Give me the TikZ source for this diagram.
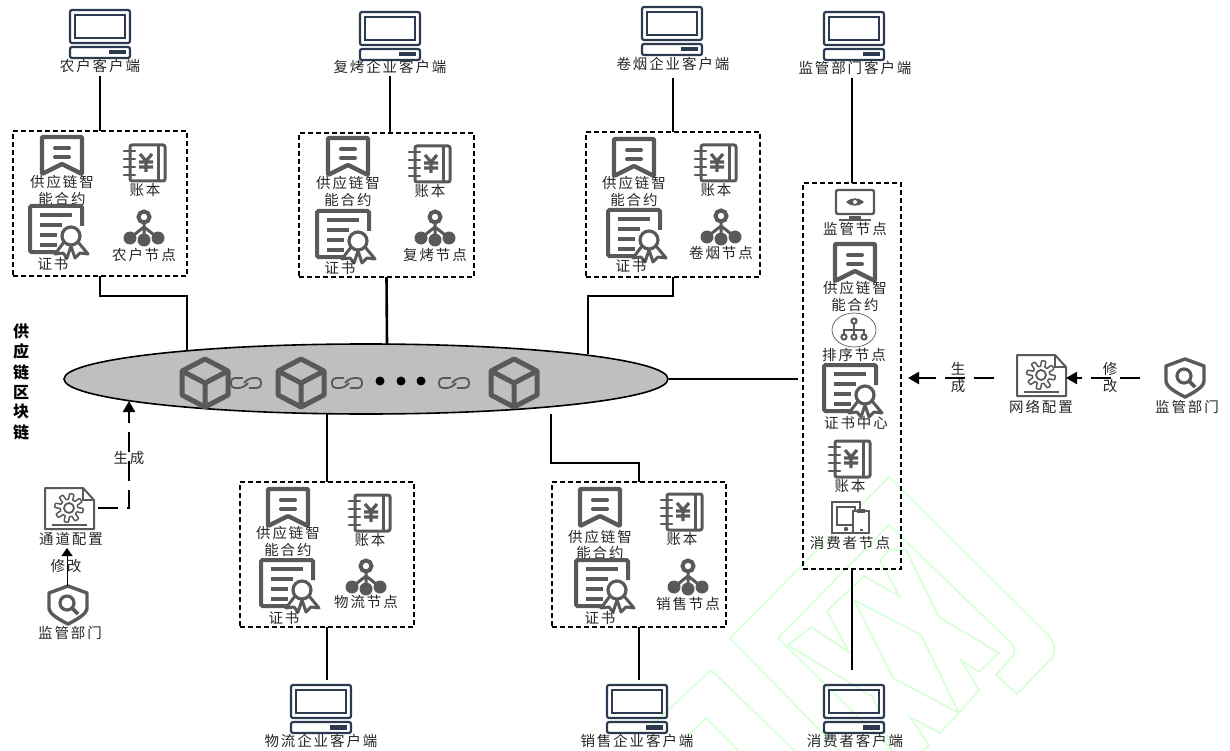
\documentclass[tikz,border=0pt]{standalone}
\usepackage{fontspec}
\setmainfont{Noto Sans CJK SC}[LetterSpace=13]
\usetikzlibrary{arrows.meta,calc,shapes.geometric}
\definecolor{ic}{HTML}{595959}
\definecolor{cl}{HTML}{2B3A4E}
\definecolor{wm}{HTML}{D8FFD8}
\tikzset{
 x=1pt,y=-1pt,
 lab/.style={inner sep=0pt,font=\fontsize{14.5}{16}\selectfont,text=black!85},
 dbox/.style={draw,dash pattern=on 5pt off 3pt,line width=1.3pt,inner sep=0pt,outer sep=0pt},
 conn/.style={line width=2.6pt,draw=black},
 dconn/.style={line width=2.4pt,draw=black,dash pattern=on 20pt off 9pt},
 tip/.style={-{Triangle[length=11pt,width=12pt]}},
 wmk/.style={draw=wm,line width=1.8pt,line join=miter},
 client/.pic={
  \draw[cl,line width=2.2pt,rounded corners=2pt] (-30,-24) rectangle (30,9);
  \draw[cl,line width=1.8pt] (-25,-19) rectangle (25,4);
  \draw[cl,line width=2.2pt,rounded corners=2pt] (-30,13) rectangle (30,24);
  \fill[cl] (9,16) rectangle (26,20.5);
 },
 contract/.pic={
  \draw[ic,line width=4.4pt,line join=round,rounded corners=1pt] (-20,-18)--(20,-18)--(20,19)--(0,9)--(-20,19)--cycle;
  \draw[ic,line width=4pt,line cap=round] (-7,-7)--(7,-7) (-7,2)--(7,2);
 },
 ledger/.pic={
  \draw[ic,line width=3pt,rounded corners=2pt] (-15,-18) rectangle (20,18);
  \draw[ic,line width=3pt] (13,-18)--(13,18);
  \draw[ic,line width=2.6pt,line cap=round] (-21,-12)--(-10,-12) (-21,-4)--(-10,-4) (-21,4)--(-10,4) (-21,12)--(-10,12);
  \draw[ic,line width=3.2pt] (-5,-9)--(1,-2)--(7,-9) (1,-2)--(1,9) (-6,-1)--(8,-1) (-6,4)--(8,4);
 },
 cert/.pic={
  \draw[ic,line width=4pt,rounded corners=1.5pt] (24,-3)--(24,-23)--(-28,-23)--(-28,23)--(0,23);
  \draw[ic,line width=3.2pt] (-18,-14)--(14,-14) (-18,-4)--(4,-4) (-18,6)--(-1,6) (-18,16)--(-1,16);
  \draw[ic,line width=3.2pt,fill=white] (13,7) circle [radius=9];
  \draw[ic,line width=3pt,line join=round] (6,13)--(-3,25)--(5,24)--(9,29)--(13,17)--(17,29)--(22,24)--(30,25)--(20,13);
 },
 netnode/.pic={
  \draw[ic,line width=3pt] (0,-5)--(0,12) (0,-1)--(-14,10) (0,-1)--(14,10);
  \draw[ic,line width=4pt,fill=white] (0,-11) circle [radius=5.5];
  \fill[ic] (-14,10) circle [radius=6.5] (14,10) circle [radius=6.5] (0,12) circle [radius=6.5];
 },
 monitor/.pic={
  \draw[ic,line width=2.4pt,rounded corners=2pt] (-19,-15) rectangle (19,9);
  \fill[ic] (-9,-3) .. controls (-3,-8) and (3,-8) .. (9,-3) .. controls (3,2) and (-3,2) .. (-9,-3) -- cycle;
  \fill[white] (0,-3) circle [radius=2];
  \draw[ic,line width=2.4pt] (-16,15)--(16,15);
  \fill[ic] (-6,11) rectangle (6,15);
 },
 orderpic/.pic={
  \draw[ic,line width=.7pt] (0,0) ellipse [x radius=22,y radius=17];
  \draw[ic,line width=2pt] (0,-9) circle [radius=2.6] (-10,7) circle [radius=2.6] (0,7) circle [radius=2.6] (10,7) circle [radius=2.6];
  \draw[ic,line width=2pt] (0,-6.5)--(0,4.5) (-10,4.5)--(-10,0)--(10,0)--(10,4.5);
 },
 tabletpic/.pic={
  \draw[ic,line width=2.2pt,fill=white] (-18,-16) rectangle (10,15);
  \draw[ic,line width=2pt] (-13,-11) rectangle (5,7);
  \fill[ic] (-4,11) circle [radius=2.2];
  \draw[ic,line width=2.2pt,fill=white] (3,-7) rectangle (19,15);
  \fill[ic] (7,-9) rectangle (15,-5);
  \fill[ic] (9.5,11) rectangle (12.5,12.5);
 },
 configpic/.pic={
  \draw[ic,line width=2pt,line join=round] (-24,-20)--(14,-20)--(25,-8)--(25,21)--(-24,21)--cycle;
  \draw[ic,line width=1.4pt] (14,-20)--(14,-8)--(25,-8);
  \draw[ic,line width=2.2pt] (-17,17)--(18,17);
  \draw[ic,line width=1.5pt,line join=round] plot[domain=0:360,samples=145] (\x:{11.5+2.8*max(-1,min(1,2.5*sin(8*\x)))}) -- cycle;
  \draw[ic,line width=1.8pt] (0,0) circle [radius=5];
 },
 shieldpic/.pic={
  \draw[ic,line width=3.4pt,line join=round] (0,-18)--(19,-11)--(19,4) .. controls (19,10) and (8,16) .. (0,20) .. controls (-8,16) and (-19,10) .. (-19,4)--(-19,-11)--cycle;
  \draw[ic,line width=3.2pt] (-1,-1) circle [radius=7];
  \draw[ic,line width=3.6pt] (4,4)--(10,10);
 },
 cubepic/.pic={
  \draw[ic,line width=5pt,line join=round] (0,-24)--(23,-12)--(23,12)--(0,24)--(-23,12)--(-23,-12)--cycle;
  \draw[ic,line width=5pt,line join=round] (-23,-12)--(0,0)--(23,-12) (0,0)--(0,24);
 },
 linkpic/.pic={
  \draw[ic,line width=1.8pt,rounded corners=4pt] (-3,-5)--(-15,-5)--(-15,5)--(-3,5)--(2,0);
  \draw[ic,line width=1.8pt,rounded corners=4pt] (3,5)--(15,5)--(15,-5)--(3,-5)--(-2,0);
 },
}
\newcommand{\lb}[3]{\node[lab] at (#1,#2) {#3};}
\begin{document}
\begin{tikzpicture}
\useasboundingbox (0,0) rectangle (1230,751);
% watermark
\draw[wmk] (840,751)--(730,638)--(889,477)--(1050,637) .. controls (1056,645) and (1056,655) .. (1050,660)--(1017,694)--(996,675)--(1012,657) .. controls (1016,652) and (1016,648) .. (1010,642)--(889,525)--(778,638)--(893,751);
\draw[wmk] (880,560)--(899,596)--(864,576)--(827,611)--(849,652)--(811,627)--(788,645)--(873,697)--(892,751);
\draw[wmk] (880,560)--(889,550)--(906,550)--(939,617)--(999,653)--(979,672)--(961,660)--(979,690)--(959,713)--(921,635)--(854,600)--(893,678)--(959,713)--(940,733)--(910,717)--(929,745)--(923,751);
\draw[wmk] (650,727)--(711,670)--(795,751);
\draw[wmk] (687,737)--(706,718)--(739,751);
% chain
\node[draw,line width=1.6pt,fill=black!25,ellipse,minimum width=604pt,minimum height=70pt,inner sep=0pt] (chain) at (366,379) {};
\pic at (205,383) {cubepic};
\pic at (301,383) {cubepic};
\pic at (514,383) {cubepic};
\pic at (246,383) {linkpic};
\pic at (347,383) {linkpic};
\pic at (454,383) {linkpic};
\fill (380,381) circle [radius=4.5] (401,381) circle [radius=4.5] (421,381) circle [radius=4.5];
% boxes
\node[dbox,minimum width=174pt,minimum height=145pt] (b1) at (100,203.5) {};
\node[dbox,minimum width=175pt,minimum height=144pt] (b2) at (386.5,205) {};
\node[dbox,minimum width=174pt,minimum height=145pt] (b3) at (673,204.5) {};
\node[dbox,minimum width=98pt,minimum height=386pt] (b4) at (852,376) {};
\node[dbox,minimum width=174pt,minimum height=145pt] (b5) at (327,554.5) {};
\node[dbox,minimum width=174pt,minimum height=145pt] (b6) at (639,554.5) {};
% clients
\pic at (100,34) {client}; \node[lab] (c1) at (100,66) {农户客户端};
\pic at (390,36) {client}; \node[lab] (c2) at (390,67) {复烤企业客户端};
\pic at (672,31) {client}; \node[lab] (c3) at (673,64) {卷烟企业客户端};
\pic at (854,36) {client}; \node[lab] (c4) at (855,68) {监管部门客户端};
\pic at (321,709) {client}; \node[lab] (c5) at (321,741) {物流企业客户端};
\pic at (637,709) {client}; \node[lab] (c6) at (637,741) {销售企业客户端};
\pic at (854,709) {client}; \node[lab] (c7) at (855,741) {消费者客户端};
% box 1
\pic at (62,155) {contract}; \lb{62}{182}{供应链智}\lb{62}{199}{能合约}
\pic at (145,163) {ledger}; \lb{145}{190}{账本}
\pic at (58,229) {cert}; \lb{53}{264}{证书}
\pic at (144,228) {netnode}; \lb{144}{255}{农户节点}
% box 2
\pic at (348,156) {contract}; \lb{348}{183}{供应链智}\lb{348}{200}{能合约}
\pic at (430,164) {ledger}; \lb{430}{191}{账本}
\pic at (345,234) {cert}; \lb{340}{268}{证书}
\pic at (435,228) {netnode}; \lb{435}{255}{复烤节点}
% box 3
\pic at (634,157) {contract}; \lb{634}{183}{供应链智}\lb{634}{200}{能合约}
\pic at (716,163) {ledger}; \lb{716}{190}{账本}
\pic at (636,233) {cert}; \lb{631}{266}{证书}
\pic at (721,227) {netnode}; \lb{721}{253}{卷烟节点}
% box 5
\pic at (288,507) {contract}; \lb{288}{533}{供应链智}\lb{288}{550}{能合约}
\pic at (370,513) {ledger}; \lb{370}{540}{账本}
\pic at (289,583) {cert}; \lb{284}{618}{证书}
\pic at (366,577) {netnode}; \lb{366}{602}{物流节点}
% box 6
\pic at (600,507) {contract}; \lb{600}{537}{供应链智}\lb{600}{553}{能合约}
\pic at (682,512) {ledger}; \lb{682}{539}{账本}
\pic at (604,583) {cert}; \lb{600}{618}{证书}
\pic at (688,577) {netnode}; \lb{688}{604}{销售节点}
% box 4
\pic at (855,205) {monitor}; \lb{855}{229}{监管节点}
\pic at (855,262) {contract}; \lb{855}{288}{供应链智}\lb{855}{305}{能合约}
\pic at (854,330) {orderpic}; \lb{854}{355}{排序节点}
\pic at (852,388) {cert}; \lb{856}{423}{证书中心}
\pic at (850,459) {ledger}; \lb{850}{486}{账本}
\pic at (850,518) {tabletpic}; \lb{850}{543}{消费者节点}
% connectors
\coordinate (t1) at (100,76); \coordinate (t2) at (390,76); \coordinate (t3) at (673,78); \coordinate (t4) at (852,78);
\coordinate (t5) at (327,680); \coordinate (t6) at (639,680); \coordinate (t7) at (852,670);
\coordinate (t2b) at (390,133);
\draw[conn] (t1)--(b1.north);
\draw[conn] (t2)--(t2b);
\draw[conn] (t3)--(b3.north);
\draw[conn] (t4)--(b4.north);
\draw[conn] (b5.south)--(t5);
\draw[conn] (b6.south)--(t6);
\draw[conn] (b4.south)--(t7);
\coordinate (j1) at (187,351); \coordinate (j3) at (588,354); \coordinate (j6) at (551,414); \coordinate (j5) at (327,414); \coordinate (j2) at (387,345);
\coordinate (j4) at (798,379);
\draw[conn] (b1.south)--(100,296)-|(j1);
\draw[conn] (b2.south)--(j2);
\draw[conn] (b3.south)--(673,296)-|(j3);
\draw[conn] (j5)--(b5.north);
\draw[conn] (j6)--(551,463)-|(b6.north);
\draw[conn] (chain.east)--(j4);
% config left
\pic at (69,508) {configpic}; \node[lab] (cc) at (71,539) {通道配置};
\pic at (68,604) {shieldpic}; \node[lab] (s1) at (70,633) {监管部门};
\coordinate (cr) at (98,508); \coordinate (ca) at (129,401);
\draw[dconn,tip] (cr)-|(ca);
\node[lab] at (129,458) {生成};
\coordinate (s1t) at (67,586); \coordinate (cct) at (67,548);
\draw[line width=1pt,-{Triangle[length=8pt,width=11pt]}] (s1t)--(cct);
\node[lab] at (66,566) {修改};
% config right
\pic at (1041,375) {configpic}; \node[lab] (nc) at (1041,407) {网络配置};
\pic at (1185,377) {shieldpic}; \node[lab] (s2) at (1187,407) {监管部门};
\coordinate (n1) at (994,378); \coordinate (n2) at (908,378);
\coordinate (m1) at (1140,378); \coordinate (m2) at (1066,378);
\draw[dconn,tip] (n1)--(n2);
\draw[dconn,tip] (m1)--(m2);
\node[lab] at (958,369) {生};\node[lab] at (958,386) {成};
\node[lab] at (1110,369) {修};\node[lab] at (1110,386) {改};
% vertical title
\foreach \c/\y in {供/331,应/351,链/372,区/392,块/412,链/432}{
 \node[inner sep=0pt,font=\fontsize{16}{17}\selectfont\bfseries] at (21,\y) {\c};
}
\end{tikzpicture}
\end{document}
